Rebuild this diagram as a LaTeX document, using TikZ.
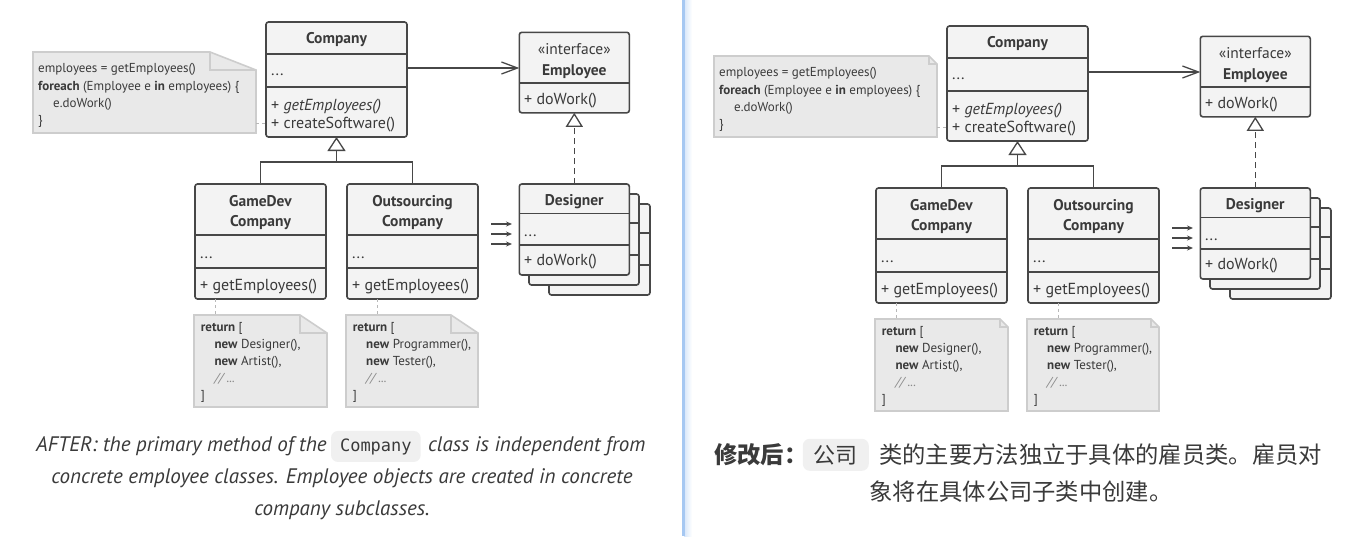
\documentclass[tikz,border=0pt]{standalone}
\usepackage{fontspec}
\setmainfont{PT Sans}
\newfontfamily\cjkfont{Noto Sans CJK SC}
\newfontfamily\monofont{DejaVu Sans Mono}
\usetikzlibrary{arrows.meta,calc}
\definecolor{ink}{HTML}{474747}
\definecolor{boxfill}{HTML}{F3F3F3}
\definecolor{notefill}{HTML}{E9E9E9}
\definecolor{noteline}{HTML}{CDCDCD}
\definecolor{txt}{HTML}{3A3A3A}
\definecolor{captxt}{HTML}{3A3A3A}
\definecolor{badgefill}{HTML}{F0F0F0}
\definecolor{divblue}{HTML}{A6C8F2}
\definecolor{cmt}{HTML}{8A8A8A}
\tikzset{
 umlbox/.style={draw=ink, fill=boxfill, line width=1.6pt, rounded corners=2.5pt, inner sep=0pt, outer sep=0pt, anchor=north west},
 divline/.style={draw=ink, line width=1.6pt},
 conn/.style={draw=ink, line width=1.3pt},
 dashconn/.style={draw=ink, line width=1.3pt, dash pattern=on 6pt off 4pt},
 notelink/.style={draw=noteline!90!black, line width=1pt, dash pattern=on 3pt off 3pt},
 ctext/.style={font=\fontsize{16}{18}\selectfont, text=txt, inner sep=0pt, anchor=base west},
 ttext/.style={font=\fontsize{15.5}{18}\selectfont\bfseries, text=txt, inner sep=0pt, anchor=base},
 stext/.style={font=\fontsize{15.5}{18}\selectfont, text=txt, inner sep=0pt, anchor=base},
 ntext/.style={font=\fontsize{13}{15}\selectfont, text=txt, inner sep=0pt, anchor=base west},
 noteframe/.style={inner sep=0pt, outer sep=0pt, anchor=north west},
 notebody/.style={fill=notefill, draw=noteline, line width=1.6pt},
 notefold/.style={draw=noteline, line width=1.6pt},
 capt/.style={font=\fontsize{21}{24}\selectfont\itshape, text=captxt, inner sep=0pt, anchor=base},
 cjkcap/.style={font=\cjkfont\fontsize{23.3}{26}\selectfont, text=captxt, inner sep=0pt, anchor=base},
 badge/.style={fill=badgefill, rounded corners=7pt, inner xsep=9pt, inner ysep=0pt, minimum height=31pt, text=captxt},
}
\newcommand{\notecorner}[3]{% #1 node, #2 fold w, #3 fold h
 \path[notebody] (#1.north west) -- ([xshift=-#2pt]#1.north east) -- ([yshift=-#3pt]#1.north east) -- (#1.south east) -- (#1.south west) -- cycle;
 \draw[notefold] ([xshift=-#2pt]#1.north east) -- ([xshift=-#2pt,yshift=-#3pt]#1.north east) -- ([yshift=-#3pt]#1.north east);
}
\newcommand{\umlpanel}[5]{%
 % top note
 \node[noteframe, minimum width=223pt, minimum height=81pt] (#1note) at (33,52) {};
 \notecorner{#1note}{#2}{#3}
 \node[ntext] (#1n1) at (38,72.5) {employees = getEmployees()};
 \node[ntext] (#1n2) at (38,90) {\textbf{foreach} (Employee e \textbf{in} employees) \{};
 \node[ntext] (#1n3) at (53,107) {e.doWork()};
 \node[ntext] (#1n4) at (38,124) {\}};
 % Company
 \node[umlbox, minimum width=141pt, minimum height=115pt] (#1company) at (266,22) {};
 \draw[divline] (#1company.west |- 0,54) -- (#1company.east |- 0,54);
 \draw[divline] (#1company.west |- 0,87) -- (#1company.east |- 0,87);
 \node[ttext] (#1companyT) at (336.5,43.3) {Company};
 \node[ctext] (#1companyA) at (271,75) {...};
 \node[ctext] (#1companyM1) at (271,110) {+ \textit{getEmployees()}};
 \node[ctext] (#1companyM2) at (271,128.3) {+ createSoftware()};
 \coordinate (#1nl) at (0,123);
 \draw[notelink] (#1note.east |- #1nl) -- (#1company.west |- #1nl);
 % Employee
 \node[umlbox, minimum width=110pt, minimum height=80.5pt] (#1employee) at (519.3,32.3) {};
 \draw[divline] (#1employee.west |- 0,82.7) -- (#1employee.east |- 0,82.7);
 \node[stext] (#1empS) at (574.3,54) {«interface»};
 \node[ttext] (#1empT) at (574.3,75) {Employee};
 \node[ctext] (#1empM) at (524,104) {+ doWork()};
 \coordinate (#1ar) at ([yshift=-46pt]#1company.north east);
 \draw[conn, -{Straight Barb[length=16pt, width=12pt]}] (#1ar) -- (#1ar -| #1employee.west);
 % GameDev
 \node[umlbox, minimum width=131pt, minimum height=115pt] (#1gamedev) at (195,184) {};
 \draw[divline] (#1gamedev.west |- 0,235) -- (#1gamedev.east |- 0,235);
 \draw[divline] (#1gamedev.west |- 0,268) -- (#1gamedev.east |- 0,268);
 \node[ttext] (#1gdT1) at (260.5,206) {GameDev};
 \node[ttext] (#1gdT2) at (260.5,226) {Company};
 \node[ctext] (#1gdA) at (200,258.3) {...};
 \node[ctext] (#1gdM) at (200,290) {+ getEmployees()};
 % Outsourcing
 \node[umlbox, minimum width=131pt, minimum height=115pt] (#1outsourcing) at (347,184) {};
 \draw[divline] (#1outsourcing.west |- 0,235) -- (#1outsourcing.east |- 0,235);
 \draw[divline] (#1outsourcing.west |- 0,268) -- (#1outsourcing.east |- 0,268);
 \node[ttext] (#1osT1) at (412.5,206) {Outsourcing};
 \node[ttext] (#1osT2) at (412.5,226) {Company};
 \node[ctext] (#1osA) at (352,258.3) {...};
 \node[ctext] (#1osM) at (352,290) {+ getEmployees()};
 % inheritance
 \coordinate (#1tree) at (336.5,162);
 \draw[conn] (#1gamedev.north) |- (#1tree) -| (#1outsourcing.north);
 \draw[conn, -{Triangle[fill=white, length=14pt, width=18pt]}] (#1tree) -- (#1company.south);
 % Designer stack
 \node[umlbox, minimum width=101pt, minimum height=91pt] (#1des3) at (549,204) {};
 \draw[divline] (#1des3.west |- 0,233) -- (#1des3.east |- 0,233);
 \draw[divline] (#1des3.west |- 0,265) -- (#1des3.east |- 0,265);
 \node[umlbox, minimum width=110pt, minimum height=91pt] (#1des2) at (529,194) {};
 \draw[divline] (#1des2.west |- 0,223) -- (#1des2.east |- 0,223);
 \draw[divline] (#1des2.west |- 0,255) -- (#1des2.east |- 0,255);
 \node[umlbox, minimum width=110pt, minimum height=91pt] (#1designer) at (519.3,184) {};
 \draw[divline] (#1designer.west |- 0,213.3) -- (#1designer.east |- 0,213.3);
 \draw[divline] (#1designer.west |- 0,245) -- (#1designer.east |- 0,245);
 \node[ttext] (#1desT) at (574.3,205) {Designer};
 \node[ctext] (#1desA) at (524,236.7) {...};
 \node[ctext] (#1desM) at (524,265) {+ doWork()};
 \draw[dashconn, -{Triangle[fill=white, length=14pt, width=17pt]}] (#1designer.north) -- (#1employee.south);
 \foreach \k/\yy in {1/224,2/234,3/244} {
  \coordinate (#1s\k) at (491,\yy);
  \coordinate (#1e\k) at (512,\yy);
  \draw[conn, -{Stealth[length=6pt, width=5pt]}] (#1s\k) -- (#1e\k);
 }
 % bottom notes
 \node[noteframe, minimum width=133pt, minimum height=92pt] (#1gnote) at (194,315) {};
 \notecorner{#1gnote}{#4}{#5}
 \node[noteframe, minimum width=132pt, minimum height=92pt] (#1onote) at (346,315) {};
 \notecorner{#1onote}{#4}{#5}
 \coordinate (#1gl) at (215,0);
 \coordinate (#1ol) at (377,0);
 \draw[notelink] (#1gamedev.south -| #1gl) -- (#1gnote.north -| #1gl);
 \draw[notelink] (#1outsourcing.south -| #1ol) -- (#1onote.north -| #1ol);
 \node[ntext] (#1g1) at (200.7,331) {\textbf{return} [};
 \node[ntext] (#1g2) at (214.3,348) {\textbf{new} Designer(),};
 \node[ntext] (#1g3) at (214.3,365) {\textbf{new} Artist(),};
 \node[ntext, text=cmt] (#1g4) at (214.3,382) {\textit{// ...}};
 \node[ntext] (#1g5) at (200.7,399) {]};
 \node[ntext] (#1o1) at (352.7,331) {\textbf{return} [};
 \node[ntext] (#1o2) at (366,348) {\textbf{new} Programmer(),};
 \node[ntext] (#1o3) at (366,365) {\textbf{new} Tester(),};
 \node[ntext, text=cmt] (#1o4) at (366,382) {\textit{// ...}};
 \node[ntext] (#1o5) at (352.7,399) {]};
}
\begin{document}
\begin{tikzpicture}[x=1pt,y=-1pt]
\useasboundingbox (0,0) rectangle (1361,536);
\fill[white] (0,0) rectangle (1361,536);
% divider
\shade[left color=divblue!45, right color=white] (684,0) rectangle (692,536);
\fill[divblue] (682,0) rectangle (684.5,536);
% panels
\umlpanel{L}{46}{18}{27}{18}
\begin{scope}[shift={(681,4)}]
\umlpanel{R}{8}{8}{8}{8}
\end{scope}
% captions left
\node[capt, anchor=base west] (capL1a) at (36,451) {AFTER: the primary method of the};
\node[badge, anchor=base west, font=\monofont\fontsize{17}{20}\selectfont] (capL1b) at ([xshift=4pt]capL1a.base east) {Company};
\node[capt, anchor=base west] (capL1c) at ([xshift=7pt]capL1b.base east) {class is independent from};
\node[capt] (capL2) at (342,483) {concrete employee classes. Employee objects are created in concrete};
\node[capt] (capL3) at (342,515) {company subclasses.};
% captions right
\node[cjkcap, anchor=base west, font=\cjkfont\fontsize{23.3}{26}\selectfont\bfseries] (capR1a) at (714,463) {修改后：};
\node[badge, anchor=base west, font=\cjkfont\fontsize{22}{26}\selectfont, minimum height=32pt, inner xsep=11pt] (capR1b) at ([xshift=-5pt]capR1a.base east) {公司};
\node[cjkcap, anchor=base west] (capR1c) at ([xshift=10pt]capR1b.base east) {类的主要方法独立于具体的雇员类。雇员对};
\node[cjkcap] (capR2) at (1021,500) {象将在具体公司子类中创建。};
\end{tikzpicture}
\end{document}
